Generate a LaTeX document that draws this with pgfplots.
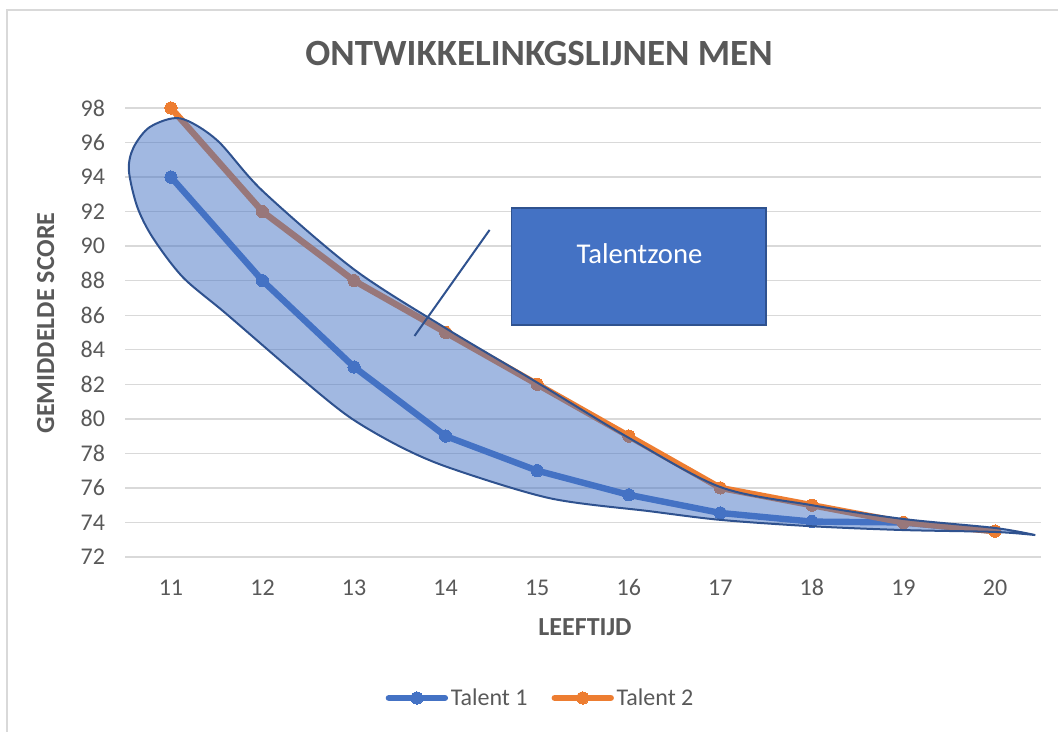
\documentclass[border=0pt]{standalone}
\usepackage{pgfplots}
\pgfplotsset{compat=1.18}
\usepackage{fontspec}
\setmainfont{Carlito}
\definecolor{tblue}{HTML}{4472C4}
\definecolor{torange}{HTML}{ED7D31}
\definecolor{dblue}{HTML}{2F528F}
\definecolor{txt}{HTML}{595959}
\definecolor{gridc}{HTML}{D9D9D9}
\begin{document}
\begin{tikzpicture}
\useasboundingbox (0,0) rectangle (793.5pt,549pt);
\draw[gridc, line width=1.1pt] (5.25pt,0) -- (5.25pt,541.5pt) -- (793.5pt,541.5pt);
\begin{axis}[
  at={(93.9pt,131.25pt)}, anchor=south west,
  scale only axis, width=686.7pt, height=336.75pt,
  xmin=10.5, xmax=20.5, ymin=72, ymax=98,
  xtick={11,...,20}, ytick={72,74,...,98},
  axis line style={draw=none},
  tick style={draw=none},
  ymajorgrids, grid style={gridc, line width=1pt},
  clip=false, clip marker paths=true,
  /pgf/number format/assume math mode=true,
  ticklabel style={font=\fontsize{18pt}{20pt}\selectfont, text=txt, inner sep=0pt},
  yticklabel style={anchor=east, xshift=-15pt},
  xticklabel style={anchor=base, yshift=-28.9pt},
  legend style={at={(0.454,-0.314)}, anchor=center, draw=none, fill=none,
    legend columns=2, font=\fontsize{18pt}{20pt}\selectfont, text=txt,
    nodes={inner sep=2pt},
    /tikz/every even column/.append style={column sep=16pt}},
  legend image code/.code={\draw[#1, mark repeat=2, mark phase=2] plot coordinates {(0pt,0pt)(21pt,0pt)(42pt,0pt)};},
]
\addplot[tblue, line width=4.8pt, line join=round, line cap=round, mark=*, mark size=4.6pt,
  mark options={solid, fill=tblue, draw=tblue, line width=0pt}] coordinates {
  (11,94) (12,88) (13,83) (14,79) (15,77) (16,75.6) (17,74.55) (18,74.05) (19,74) (20,73.5)};
\addlegendentry{Talent 1}
\addplot[torange, line width=4.8pt, line join=round, line cap=round, mark=*, mark size=4.6pt,
  mark options={solid, fill=torange, draw=torange, line width=0pt}] coordinates {
  (11,98) (12,92) (13,88) (14,85) (15,82) (16,79) (17,76) (18,75) (19,74) (20,73.5)};
\addlegendentry{Talent 2}
\addplot[draw=dblue, line width=1.5pt, fill=tblue, fill opacity=0.5, smooth, mark=none, forget plot] coordinates {
  (20.44,73.27) (20.0,73.68) (19.0,74.2) (18.0,75.0) (17.0,76.05) (16.0,78.9) (15.0,82.1)
  (14.0,85.25) (13.0,88.65) (12.0,93.2) (11.5,96.15) (11.1,97.4) (10.77,96.9) (10.59,95.7)
  (10.54,94.4) (10.63,92.3) (10.80,90.5) (11.13,88.2) (11.6,86.1) (12.41,82.4) (12.95,80.1)
  (13.5,78.4) (14.05,77.15) (15.14,75.4) (16.23,74.65) (17.0,74.15) (18.0,73.78) (19.0,73.56)
  (20.0,73.45) (20.44,73.27)};
\addplot[dblue, line width=1.5pt, mark=none, forget plot] coordinates {(14.48,90.94) (13.66,84.80)};
\draw[dblue, line width=1.3pt, fill=tblue] (axis cs:14.72,85.43) rectangle (axis cs:17.50,92.19);
\node[white, font=\fontsize{21.5pt}{24pt}\selectfont, anchor=base, inner sep=0pt] at (axis cs:16.117,89.01) {Talentzone};
\end{axis}
\node[txt, font=\fontsize{27.75pt}{30pt}\selectfont\bfseries, anchor=base, inner sep=0pt] at (404.25pt,499.7pt) {ONTWIKKELINKGSLIJNEN MEN};
\node[txt, font=\fontsize{19.5pt}{22pt}\selectfont\bfseries, anchor=base, inner sep=0pt] at (438.75pt,72.45pt) {LEEFTIJD};
\node[txt, font=\fontsize{19.5pt}{22pt}\selectfont\bfseries, anchor=base, inner sep=0pt, rotate=90] at (40.5pt,306.75pt) {GEMIDDELDE SCORE};
\end{tikzpicture}
\end{document}
